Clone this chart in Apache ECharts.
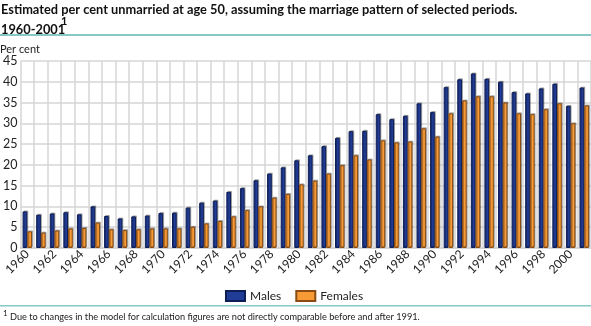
<!DOCTYPE html>
<html>
<head>
<meta charset="utf-8">
<script src="https://cdn.jsdelivr.net/npm/echarts@6/dist/echarts.min.js"></script>
<style>
  html, body { margin: 0; padding: 0; background: #fff; }
  #chart { width: 591px; height: 326px; }
</style>
</head>
<body>
<div id="chart"></div>
<script>
// Years 1960-2001
const years = [
  '1960','1961','1962','1963','1964','1965','1966','1967','1968','1969',
  '1970','1971','1972','1973','1974','1975','1976','1977','1978','1979',
  '1980','1981','1982','1983','1984','1985','1986','1987','1988','1989',
  '1990','1991','1992','1993','1994','1995','1996','1997','1998','1999',
  '2000','2001'
];

// Per cent unmarried at age 50
const males = [
  8.8, 8.0, 8.3, 8.6, 8.1, 10.0, 7.7, 7.1, 7.6, 7.8,
  8.4, 8.5, 9.7, 10.9, 11.4, 13.5, 14.4, 16.3, 17.9, 19.4,
  21.1, 22.3, 24.5, 26.5, 28.1, 28.2, 32.2, 31.0, 31.8, 34.8,
  32.7, 38.7, 40.6, 42.0, 40.7, 40.0, 37.5, 37.2, 38.4, 39.5,
  34.2, 38.6
];
const females = [
  4.0, 3.7, 4.2, 4.7, 4.8, 6.1, 4.5, 4.3, 4.5, 4.7,
  4.7, 4.7, 5.1, 5.9, 6.5, 7.6, 9.1, 10.0, 12.1, 13.0,
  15.3, 16.2, 17.9, 19.9, 22.3, 21.3, 25.9, 25.4, 25.6, 28.8,
  26.8, 32.4, 35.5, 36.5, 36.5, 35.0, 32.4, 32.2, 33.4, 34.8,
  30.0, 34.3
];

const titleLine1 = 'Estimated per cent unmarried at age 50, assuming the marriage pattern of selected periods.';
const titleLine2 = '1960-2001';
const footnote = 'Due to changes in the model for calculation figures are not directly comparable before and after 1991.';

const FONT = 'Lato, "Open Sans", sans-serif';
const TEAL = '#86c8c8';

const chart = echarts.init(document.getElementById('chart'), null, { renderer: 'canvas' });

const barStyle = (fill, border) => ({
  color: fill,
  borderColor: border,
  borderWidth: 1,
  shadowColor: 'rgba(0,0,0,0.28)',
  shadowOffsetX: 1,
  shadowOffsetY: -1,
  shadowBlur: 0
});

chart.setOption({
  animation: false,
  backgroundColor: '#ffffff',
  textStyle: { fontFamily: FONT },
  grid: { left: 17, right: -1, top: 61, bottom: 78, containLabel: false },
  legend: {
    left: 220,
    top: 285,
    itemWidth: 19,
    itemHeight: 10,
    itemGap: 14,
    icon: 'rect',
    textStyle: { fontSize: 12, color: '#222', fontFamily: FONT },
    data: ['Males', 'Females']
  },
  xAxis: {
    type: 'category',
    data: years,
    boundaryGap: true,
    axisLine: { show: true, lineStyle: { color: '#cfcfcf', width: 1.5 } },
    axisTick: { show: false },
    splitLine: { show: true, interval: 0, lineStyle: { color: '#d6d6d6', width: 1.5 } },
    axisLabel: {
      interval: 1,
      rotate: 45,
      margin: 4,
      fontSize: 12,
      color: '#222',
      fontFamily: FONT
    }
  },
  yAxis: {
    type: 'value',
    min: 0,
    max: 45,
    interval: 5,
    axisLine: { show: false },
    axisTick: { show: false },
    splitLine: { show: true, lineStyle: { color: '#d6d6d6', width: 1.5 } },
    axisLabel: { fontSize: 12.5, color: '#222', margin: 3, fontFamily: FONT }
  },
  series: [
    {
      name: 'Males',
      type: 'bar',
      data: males,
      barWidth: 4.7,
      barGap: '0%',
      itemStyle: barStyle('#213c96', '#0d1d55')
    },
    {
      name: 'Females',
      type: 'bar',
      data: females,
      barWidth: 4.7,
      barGap: '0%',
      itemStyle: barStyle('#f89b36', '#8a4c12')
    }
  ],
  graphic: [
    { type: 'text', left: 1, top: 3,
      style: { text: titleLine1, font: 'bold 12.8px ' + FONT, fill: '#111' } },
    { type: 'text', left: 1, top: 23,
      style: { text: titleLine2, font: 'bold 12.8px ' + FONT, fill: '#111' } },
    { type: 'text', left: 61, top: 16,
      style: { text: '1', font: 'bold 11px ' + FONT, fill: '#111' } },
    { type: 'rect', left: 0, top: 34, shape: { width: 591, height: 2 }, style: { fill: TEAL } },
    { type: 'text', left: 0, top: 44,
      style: { text: 'Per cent', font: '11px ' + FONT, fill: '#222' } },
    { type: 'rect', left: 0, top: 305, shape: { width: 591, height: 1.5 }, style: { fill: TEAL } },
    { type: 'text', left: 3, top: 309,
      style: { text: '1', font: '8px ' + FONT, fill: '#222' } },
    { type: 'text', left: 10, top: 313,
      style: { text: footnote, font: '9.2px ' + FONT, fill: '#222' } }
  ]
});
</script>
</body>
</html>
